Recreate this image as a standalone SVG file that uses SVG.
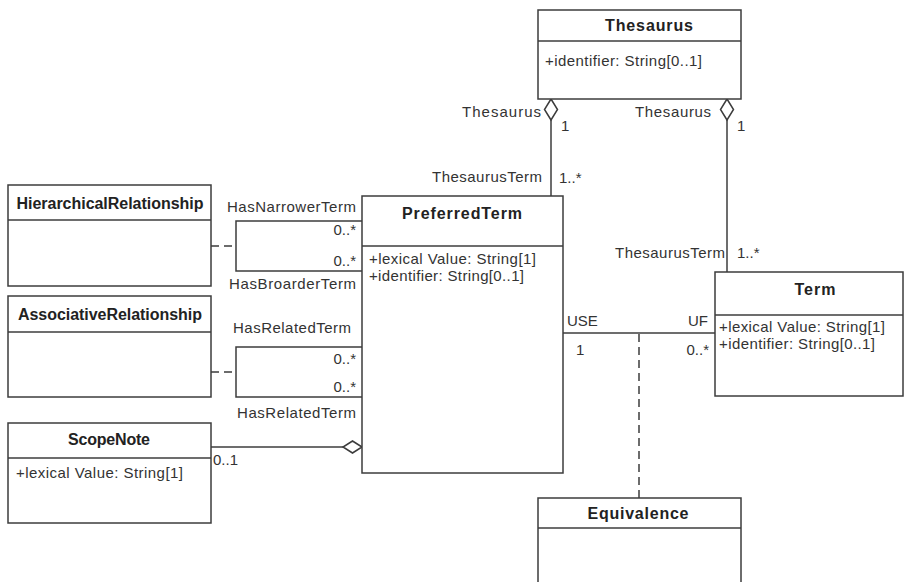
<svg xmlns="http://www.w3.org/2000/svg" width="905" height="582" viewBox="0 0 905 582">
  <style>
    text { font-family: "Liberation Sans", Arial, sans-serif; fill: #333; }
    .title { font-size: 16px; font-weight: bold; fill: #222; text-anchor: middle; }
    .attr { font-size: 15px; }
    .lbl { font-size: 15px; }
    .end { text-anchor: end; }
    .box { fill: #fff; stroke: #3c3c3c; stroke-width: 1.5; }
    .sep { stroke: #3c3c3c; stroke-width: 1.5; }
    .line { fill: none; stroke: #3c3c3c; stroke-width: 1.5; }
    .dash { fill: none; stroke: #3c3c3c; stroke-width: 1.5; stroke-dasharray: 8 5; }
    .diamond { fill: #fff; stroke: #3c3c3c; stroke-width: 1.5; }
  </style>

  <!-- connectors -->
  <g id="connectors">
    <!-- Thesaurus aggregations -->
    <line class="line" x1="551" y1="120" x2="551" y2="196"/>
    <polygon class="diamond" points="551,99 557.5,109.5 551,120 544.5,109.5"/>
    <line class="line" x1="727" y1="120" x2="727" y2="272"/>
    <polygon class="diamond" points="727,99 733.5,109.5 727,120 720.5,109.5"/>

    <!-- USE / UF association -->
    <line class="line" x1="563" y1="333" x2="715" y2="333"/>
    <line class="dash" x1="639" y1="334" x2="639" y2="498"/>

    <!-- hierarchical self-association -->
    <path class="line" d="M362,221 H236 V271 H362"/>
    <line class="dash" x1="211" y1="246" x2="236" y2="246" stroke-dasharray="8 7"/>

    <!-- associative self-association -->
    <path class="line" d="M362,347 H236 V397 H362"/>
    <line class="dash" x1="211" y1="372" x2="236" y2="372" stroke-dasharray="8 7"/>

    <!-- scope note aggregation -->
    <line class="line" x1="211" y1="447" x2="343" y2="447"/>
    <polygon class="diamond" points="362,447 352.5,441 343,447 352.5,453"/>

    <!-- role names and multiplicities -->
    <text class="lbl end" x="541" y="117" textLength="79">Thesaurus</text>
    <text class="lbl" x="561" y="131">1</text>
    <text class="lbl end" x="711" y="117" textLength="76">Thesaurus</text>
    <text class="lbl" x="737" y="131">1</text>
    <text class="lbl end" x="542" y="182" textLength="110">ThesaurusTerm</text>
    <text class="lbl" x="559" y="183">1..*</text>
    <text class="lbl end" x="725" y="258" textLength="110">ThesaurusTerm</text>
    <text class="lbl" x="737" y="258">1..*</text>

    <text class="lbl" x="567" y="326">USE</text>
    <text class="lbl end" x="708" y="326">UF</text>
    <text class="lbl" x="576" y="355">1</text>
    <text class="lbl end" x="709" y="355">0..*</text>

    <text class="lbl end" x="356" y="212" textLength="129">HasNarrowerTerm</text>
    <text class="lbl end" x="356" y="235">0..*</text>
    <text class="lbl end" x="356" y="266">0..*</text>
    <text class="lbl end" x="356" y="289" textLength="127">HasBroarderTerm</text>

    <text class="lbl end" x="351" y="333" textLength="118">HasRelatedTerm</text>
    <text class="lbl end" x="356" y="364">0..*</text>
    <text class="lbl end" x="356" y="392">0..*</text>
    <text class="lbl end" x="356" y="418" textLength="119">HasRelatedTerm</text>

    <text class="lbl" x="213" y="465">0..1</text>
  </g>

  <!-- Thesaurus -->
  <g id="thesaurus">
    <rect class="box" x="538" y="10" width="203" height="89"/>
    <line class="sep" x1="538" y1="41" x2="741" y2="41"/>
    <text class="title" x="649" y="31" textLength="88">Thesaurus</text>
    <text class="attr" x="545" y="66" textLength="157">+identifier: String[0..1]</text>
  </g>

  <!-- PreferredTerm -->
  <g id="preferred-term">
    <rect class="box" x="362" y="196" width="201" height="277"/>
    <line class="sep" x1="362" y1="246" x2="563" y2="246"/>
    <text class="title" x="462" y="219" textLength="120">PreferredTerm</text>
    <text class="attr" x="369" y="264" textLength="167">+lexical Value: String[1]</text>
    <text class="attr" x="369" y="281" textLength="155">+identifier: String[0..1]</text>
  </g>

  <!-- Term -->
  <g id="term">
    <rect class="box" x="715" y="272" width="188" height="124"/>
    <line class="sep" x1="715" y1="315" x2="903" y2="315"/>
    <text class="title" x="815" y="295" textLength="41">Term</text>
    <text class="attr" x="719" y="332" textLength="166">+lexical Value: String[1]</text>
    <text class="attr" x="719" y="349" textLength="156">+identifier: String[0..1]</text>
  </g>

  <!-- HierarchicalRelationship -->
  <g id="hierarchical-relationship">
    <rect class="box" x="8" y="185" width="203" height="101"/>
    <line class="sep" x1="8" y1="220" x2="211" y2="220"/>
    <text class="title" x="110" y="209" textLength="187">HierarchicalRelationship</text>
  </g>

  <!-- AssociativeRelationship -->
  <g id="associative-relationship">
    <rect class="box" x="8" y="296" width="203" height="101"/>
    <line class="sep" x1="8" y1="332" x2="211" y2="332"/>
    <text class="title" x="110" y="320" textLength="184">AssociativeRelationship</text>
  </g>

  <!-- ScopeNote -->
  <g id="scope-note">
    <rect class="box" x="8" y="423" width="203" height="100"/>
    <line class="sep" x1="8" y1="458" x2="211" y2="458"/>
    <text class="title" x="109" y="445" textLength="82">ScopeNote</text>
    <text class="attr" x="16" y="478" textLength="167">+lexical Value: String[1]</text>
  </g>

  <!-- Equivalence -->
  <g id="equivalence">
    <rect class="box" x="538" y="498" width="203" height="110"/>
    <line class="sep" x1="538" y1="528" x2="741" y2="528"/>
    <text class="title" x="638" y="519" textLength="101">Equivalence</text>
  </g>
</svg>
